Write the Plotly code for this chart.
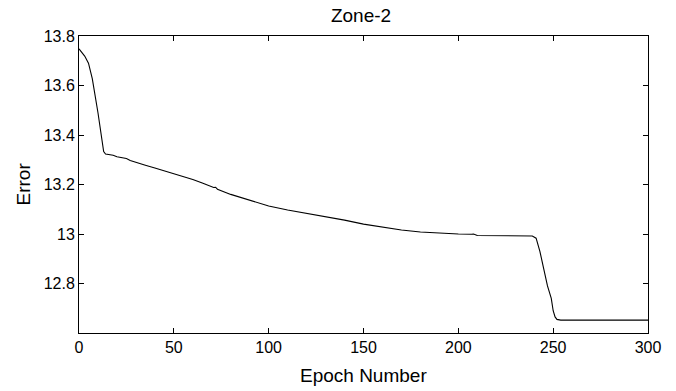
import plotly.graph_objects as go

# Training error per epoch for zone 2
epochs = [0, 3, 5, 7, 10, 11, 13, 14, 18, 20, 22, 24, 25, 27, 30, 35, 40, 45, 50,
          55, 60, 65, 70, 71, 72, 73, 80, 90, 100, 110, 120, 130, 140, 150, 160,
          170, 180, 190, 200, 207, 208, 210, 220, 230, 239, 241, 243, 245, 247,
          249, 250, 251, 252, 254, 300]
error = [13.748, 13.719, 13.690, 13.628, 13.490, 13.430, 13.333, 13.323, 13.318,
         13.312, 13.309, 13.304, 13.305, 13.297, 13.289, 13.278, 13.267, 13.256,
         13.245, 13.234, 13.220, 13.206, 13.193, 13.188, 13.189, 13.181, 13.160,
         13.135, 13.113, 13.097, 13.084, 13.072, 13.056, 13.040, 13.027, 13.016,
         13.008, 13.003, 13.000, 12.999, 13.000, 12.994, 12.993, 12.993, 12.992,
         12.983, 12.930, 12.860, 12.790, 12.740, 12.690, 12.665, 12.655, 12.652,
         12.652]

x_ticks = [0, 50, 100, 150, 200, 250, 300]
y_ticks = [12.8, 13.0, 13.2, 13.4, 13.6, 13.8]
y_tick_text = ["12.8", "13", "13.2", "13.4", "13.6", "13.8"]

FONT = "Liberation Sans, Arial, sans-serif"

fig = go.Figure()
fig.add_trace(go.Scatter(x=epochs, y=error, mode="lines",
                         line=dict(color="black", width=1.1),
                         showlegend=False))

axis_common = dict(
    showline=True, linecolor="black", linewidth=1, mirror="ticks",
    ticks="inside", ticklen=5, tickwidth=1, tickcolor="black",
    showgrid=False, zeroline=False,
    tickfont=dict(family=FONT, size=16, color="black"),
)

fig.update_xaxes(range=[0, 300], tickvals=x_ticks, **axis_common)
fig.update_yaxes(range=[12.6, 13.8], tickvals=y_ticks, ticktext=y_tick_text,
                 **axis_common)

fig.update_layout(
    width=676, height=391,
    margin=dict(l=79, r=28, t=36, b=58),
    plot_bgcolor="white", paper_bgcolor="white",
    title=dict(text="Zone-2", x=361 / 676, xanchor="center",
               y=1 - 15 / 391, yanchor="middle", yref="container",
               font=dict(family=FONT, size=19, color="black")),
    annotations=[
        dict(text="Epoch Number", xref="paper", yref="paper",
             x=0.5, y=0, yshift=-42, xanchor="center", yanchor="middle",
             showarrow=False, font=dict(family=FONT, size=19, color="black")),
        dict(text="Error", xref="paper", yref="paper", textangle=-90,
             x=0, y=0.5, xshift=-56, xanchor="center", yanchor="middle",
             showarrow=False, font=dict(family=FONT, size=19, color="black")),
    ],
)

fig.write_html("out.html")
